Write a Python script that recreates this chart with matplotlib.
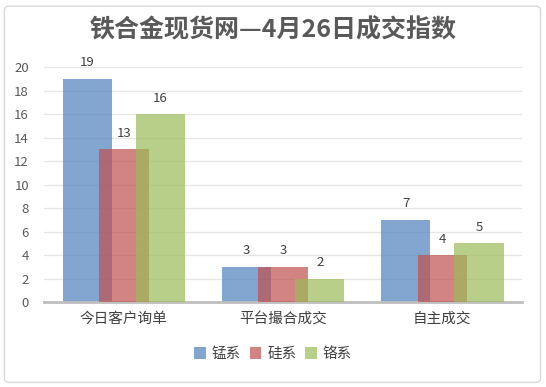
import numpy as np
import matplotlib.pyplot as plt
from matplotlib.patches import FancyBboxPatch

plt.rcParams['font.family'] = ['Noto Sans CJK SC', 'DejaVu Sans']

categories = ['今日客户询单', '平台撮合成交', '自主成交']
series_names = ['锰系', '硅系', '铬系']
mn_values = [19, 3, 7]
si_values = [13, 3, 4]
cr_values = [16, 2, 5]
colors = ['#4F81BD', '#C0504D', '#9BBB59']

fig = plt.figure(figsize=(5.46, 3.87), dpi=100)
# border of the chart area
border = FancyBboxPatch((0.008, 0.012), 0.982, 0.972, boxstyle='round,pad=0,rounding_size=0.01',
                        transform=fig.transFigure, facecolor='white', edgecolor='#D9D9D9',
                        linewidth=1.0, zorder=-1)
fig.patches.append(border)

ax = fig.add_axes([0.081, 0.2196, 0.875, 0.607])
ax.set_facecolor('none')

x = np.arange(len(categories))
width = 0.31
offset = 0.23
for i, (vals, name, c) in enumerate(zip([mn_values, si_values, cr_values], series_names, colors)):
    pos = x + (i - 1) * offset
    bars = ax.bar(pos, vals, width, color=c, alpha=0.7, label=name, zorder=2 + i,
                  linewidth=0)
    for b, v in zip(bars, vals):
        ax.text(b.get_x() + b.get_width() / 2, v + 0.8, str(v), ha='center', va='bottom',
                fontsize=9.5, color='#404040', zorder=10)

ax.set_xlim(-0.5, 2.5)
ax.set_ylim(0, 20)
ax.set_yticks(range(0, 21, 2))
ax.set_xticks(x)
ax.set_xticklabels(categories, fontsize=10.5, color='#404040')
ax.tick_params(axis='both', length=0)
ax.tick_params(axis='y', labelsize=9.5, labelcolor='#595959', pad=11)
ax.tick_params(axis='x', pad=7)
ax.grid(axis='y', color='#E6E6E6', linewidth=0.9, zorder=0)
ax.set_axisbelow(True)
for s in ['top', 'right', 'left']:
    ax.spines[s].set_visible(False)
ax.spines['bottom'].set_color('#BFBFBF')
ax.spines['bottom'].set_linewidth(2)

fig.text(0.5, 0.922, '铁合金现货网—4月26日成交指数', ha='center', va='center',
         fontsize=18, fontweight='bold', color='#595959')

leg = fig.legend(loc='center', bbox_to_anchor=(0.5, 0.085), ncol=3, frameon=False,
                 fontsize=10.5, handlelength=0.8, handleheight=0.8, handletextpad=0.4,
                 columnspacing=0.6)
for t in leg.get_texts():
    t.set_color('#404040')

fig.savefig('out.png', dpi=100)
